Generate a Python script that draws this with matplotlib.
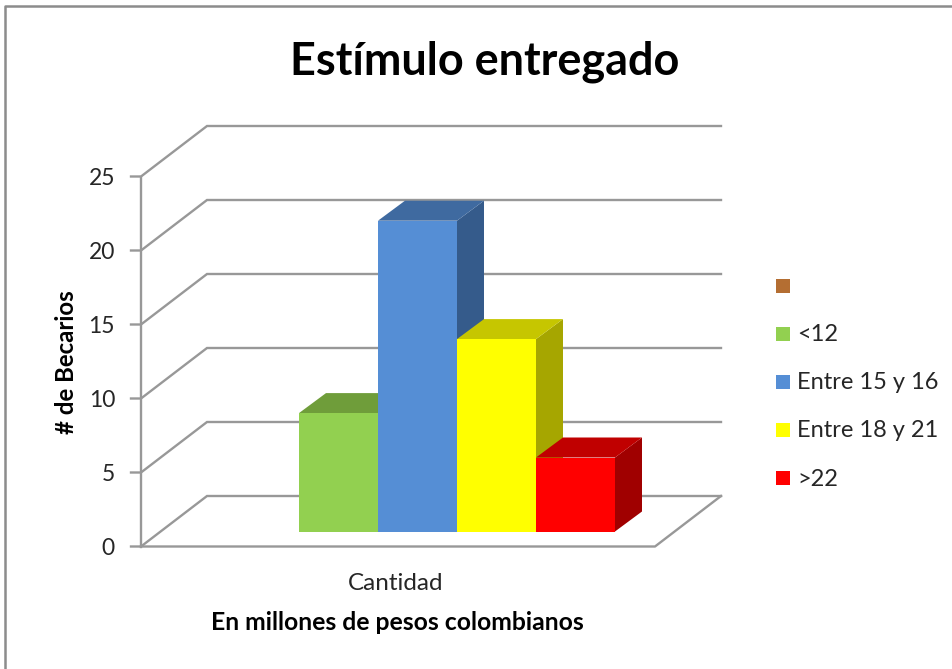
import matplotlib.pyplot as plt
from matplotlib.patches import Polygon, Rectangle

plt.rcParams['font.family'] = ['Lato', 'DejaVu Sans']

# %% data
values = [8, 21, 13, 5]
y_ticks = [0, 5, 10, 15, 20, 25]
legend_labels = ['', '<12', 'Entre 15 y 16', 'Entre 18 y 21', '>22']
legend_colors = ['#B46E32', '#92D050', '#558ED5', '#FFFF00', '#FF0000']
front_colors = ['#92D050', '#558ED5', '#FFFF00', '#FF0000']
top_colors = ['#6F9D3A', '#3F6AA0', '#C6C600', '#C00000']
side_colors = ['#5F8A32', '#355B8B', '#A6A600', '#A00000']

# %% layout, in pixels of the picture
W, H = 953, 669
PX_PER_UNIT = 14.8
FRONT_X0, FRONT_X1, FRONT_Y0 = 141, 655, 546.5
BACK_DX, BACK_DY = 66, -50.5
BAR_X0, BAR_W, BAR_Y0 = 299, 79.0, 531.5
BAR_DX, BAR_DY = 27, -20
GRID = '#989898'


def to_y(v, base=FRONT_Y0):
    return base - v * PX_PER_UNIT


fig = plt.figure(figsize=(W / 100, H / 100), dpi=100)
ax = fig.add_axes([0, 0, 1, 1])
ax.set_xlim(0, W)
ax.set_ylim(H, 0)
ax.axis('off')

# picture frame (top and left only)
ax.plot([5, 5, W], [H, 6, 6], color='#8C8C8C', lw=1.8)

# %% walls and floor
for t in y_ticks:
    y = to_y(t)
    ax.plot([FRONT_X0 - 10, FRONT_X0, FRONT_X0 + BACK_DX, FRONT_X1 + BACK_DX],
            [y, y, y + BACK_DY, y + BACK_DY], color=GRID, lw=1.7, solid_joinstyle='miter')
    ax.text(115, y + 2, str(t), ha='right', va='center', fontsize=16.5, color='#262626')
ax.plot([FRONT_X0, FRONT_X0], [to_y(25), to_y(0)], color=GRID, lw=1.7)
ax.plot([FRONT_X0, FRONT_X1, FRONT_X1 + BACK_DX],
        [FRONT_Y0, FRONT_Y0, FRONT_Y0 + BACK_DY], color=GRID, lw=1.7)

# %% bars
for i, v in enumerate(values):
    x0 = BAR_X0 + i * BAR_W
    x1 = x0 + BAR_W
    y1 = to_y(v, BAR_Y0)
    ax.add_patch(Polygon([(x1, BAR_Y0), (x1 + BAR_DX, BAR_Y0 + BAR_DY),
                          (x1 + BAR_DX, y1 + BAR_DY), (x1, y1)],
                         fc=side_colors[i], ec='none', zorder=3))
    ax.add_patch(Polygon([(x0, y1), (x0 + BAR_DX, y1 + BAR_DY),
                          (x1 + BAR_DX, y1 + BAR_DY), (x1, y1)],
                         fc=top_colors[i], ec='none', zorder=3))
    ax.add_patch(Rectangle((x0, y1), BAR_W, BAR_Y0 - y1,
                           fc=front_colors[i], ec='none', zorder=3))

# %% legend
for label, color, y in zip(legend_labels, legend_colors, [285.5, 333.5, 381.5, 429.5, 478]):
    ax.add_patch(Rectangle((776, y - 7), 14, 14, fc=color, ec='none'))
    ax.text(797, y + 1, label, ha='left', va='center', fontsize=17, color='#262626')

# %% text
ax.text(485, 62, 'Estímulo entregado', ha='center', va='center',
        fontsize=32.4, fontweight='bold', color='black')
ax.text(67, 362, '# de Becarios', ha='center', va='center', rotation=90,
        fontsize=17.3, fontweight='bold', color='black')
ax.text(396, 583, 'Cantidad', ha='center', va='center', fontsize=17.5, color='#262626')
ax.text(397, 622, 'En millones de pesos colombianos', ha='center', va='center',
        fontsize=17.8, fontweight='bold', color='black')

plt.savefig('out.png', dpi=100)
